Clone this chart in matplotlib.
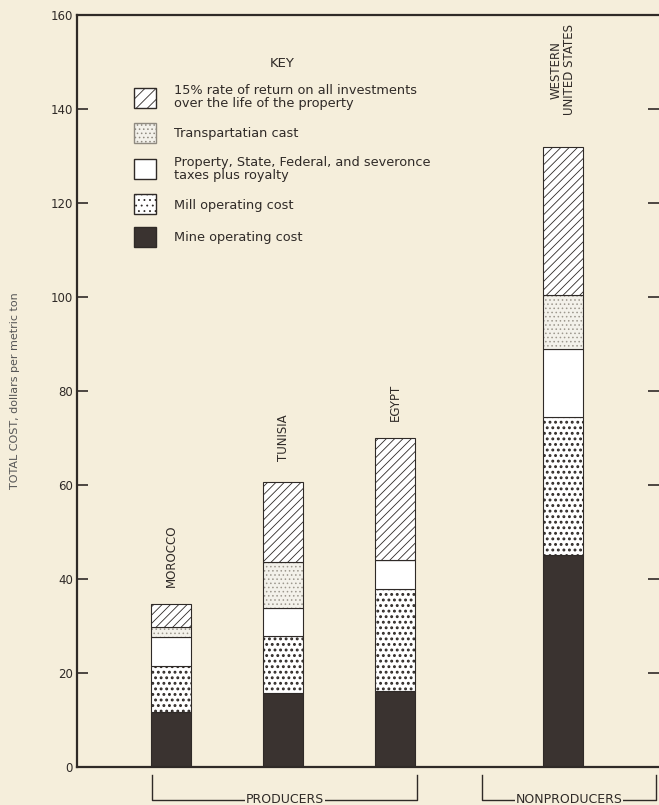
import matplotlib.pyplot as plt
import numpy as np
from matplotlib.patches import Patch

# cost components, dollars per metric ton
regions = ["MOROCCO", "TUNISIA", "EGYPT", "WESTERN\nUNITED STATES"]
mine_cost = [11.7, 15.7, 16.2, 45.1]
mill_cost = [9.8, 12.2, 21.7, 29.4]
taxes = [6.2, 5.9, 6.1, 14.4]
transport = [2.1, 9.8, 0.0, 11.5]
return_15 = [4.9, 17.0, 26.0, 31.5]
yticks = [0, 20, 40, 60, 80, 100, 120, 140, 160]

bg = "#f5eedb"
ink = "#2f2a27"
dark = "#3a3330"
pos = np.array([1, 2, 3, 4.5])
w = 0.36
label_gap = [3.6, 4.6, 3.6, 6.8]

fig = plt.figure(figsize=(6.59, 8.05), dpi=100, facecolor=bg)
ax = fig.add_axes([0.117, 0.0472, 0.883, 0.934], facecolor=bg)

bottom = np.zeros(4)
ax.bar(pos, mine_cost, w, bottom=bottom, color=dark, edgecolor=ink, lw=0.8)
bottom += mine_cost
# heavier stroke makes the mill dots bigger
plt.rcParams['hatch.linewidth'] = 1.3
ax.bar(pos, mill_cost, w, bottom=bottom, color="white", edgecolor=ink, hatch="...", lw=0.8)
bottom += mill_cost
plt.rcParams['hatch.linewidth'] = 0.6
ax.bar(pos, taxes, w, bottom=bottom, color="white", edgecolor=ink, lw=0.8)
bottom += taxes
# light stipple drawn in grey, outline redrawn in black
ax.bar(pos, transport, w, bottom=bottom, color="#f3f1ea", edgecolor="#9d988e", hatch="....", lw=0)
ax.bar(pos, transport, w, bottom=bottom, color="none", edgecolor=ink, lw=0.8)
bottom += transport
ax.bar(pos, return_15, w, bottom=bottom, color="white", edgecolor=ink, hatch="////", lw=0.8)
bottom += return_15

for x, top, name, gap in zip(pos, bottom, regions, label_gap):
    ax.text(x, top + gap, name, rotation=90, ha="center", va="bottom",
            fontsize=8.5, color=ink, linespacing=0.95)

ax.set_xlim(0.16, 5.36)
ax.set_ylim(0, 160)
ax.set_yticks(yticks)
ax.set_xticks([])
ax.tick_params(axis="y", direction="in", length=8, width=1.2, colors=ink,
               labelsize=8.5, right=True, pad=3)
for s in ["left", "bottom", "top"]:
    ax.spines[s].set_linewidth(1.6)
    ax.spines[s].set_color(ink)
ax.spines["right"].set_visible(False)
ax.set_ylabel("TOTAL COST, dollars per metric ton", fontsize=8, color="#555",
              labelpad=22)

# group brackets under the axis
def bracket(x0, x1, label):
    ax.plot([x0, x0, x1, x1], [-1.8, -7.0, -7.0, -1.8], color=ink, lw=1,
            clip_on=False)
    ax.text((x0 + x1) / 2, -7.0, label, ha="center", va="center", fontsize=9,
            color=ink, bbox=dict(facecolor=bg, edgecolor="none", pad=0.6))

bracket(0.83, 3.2, "PRODUCERS")
bracket(3.78, 5.33, "NONPRODUCERS")

handles = [
    Patch(facecolor="white", edgecolor=ink, hatch="///"),
    Patch(facecolor="#f3f1ea", edgecolor="#8f8a80", hatch="...."),
    Patch(facecolor="white", edgecolor=ink),
    Patch(facecolor="white", edgecolor=ink, hatch="..."),
    Patch(facecolor=dark, edgecolor=ink),
]
labels = [
    "15% rate of return on all investments\nover the life of the property",
    "Transpartatian cast",
    "Property, State, Federal, and severonce\ntaxes plus royalty",
    "Mill operating cost",
    "Mine operating cost",
]
leg = ax.legend(handles, labels, title="KEY", loc="upper left",
                bbox_to_anchor=(0.077, 0.96), frameon=False, fontsize=9.3,
                title_fontsize=9.5, handlelength=1.75, handleheight=2.0,
                labelspacing=1.0, handletextpad=1.4)
leg._legend_box.sep = 10
for t in leg.get_texts():
    t.set_color(ink)
    t.set_linespacing(1.0)
leg.get_title().set_color(ink)

fig.savefig("out.png", dpi=100, facecolor=bg)
